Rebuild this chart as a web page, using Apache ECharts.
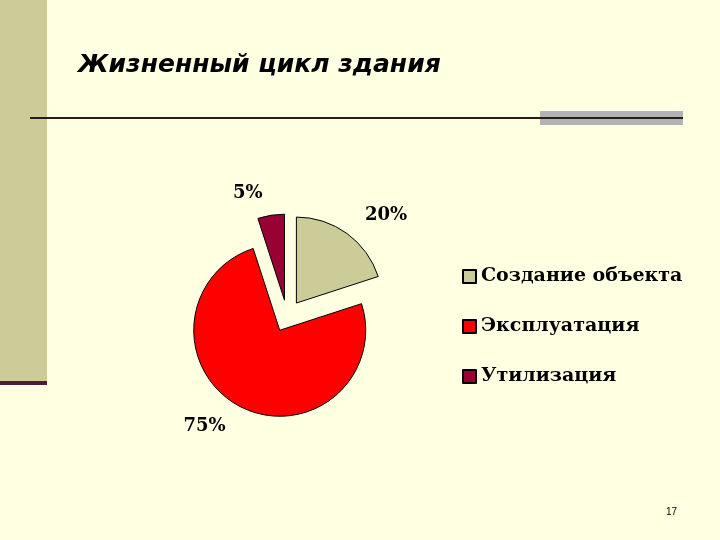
<!DOCTYPE html>
<html>
<head>
<meta charset="utf-8">
<script src="https://cdn.jsdelivr.net/npm/echarts@6/dist/echarts.min.js"></script>
<style>
  html, body { margin: 0; padding: 0; background: #FFFFE1; }
  #chart { width: 720px; height: 540px; }
</style>
</head>
<body>
<div id="chart"></div>
<script>
// данные диаграммы
const categories = ['Создание объекта', 'Эксплуатация', 'Утилизация'];
const values = [20, 75, 5];
const colors = ['#CCCC99', '#FF0000', '#990033'];

const chart = echarts.init(document.getElementById('chart'));

const option = {
  backgroundColor: '#FFFFE1',
  animation: false,
  graphic: [
    // левая полоса
    { type: 'rect', shape: { x: 0, y: 0, width: 47, height: 382 }, style: { fill: '#CCCC99' } },
    { type: 'rect', shape: { x: 0, y: 381, width: 47, height: 4 }, style: { fill: '#4B1A3C' } },
    // линия под заголовком
    { type: 'rect', shape: { x: 540, y: 111, width: 143, height: 14 }, style: { fill: '#B3B3B3' } },
    { type: 'rect', shape: { x: 30, y: 117, width: 653, height: 2 }, style: { fill: '#2A1A1A' } },
    {
      type: 'text', left: 78, top: 53,
      style: { text: 'Жизненный цикл здания', fill: '#000', font: 'italic bold 25px "DejaVu Sans", Arial' }
    },
    {
      type: 'text', left: 666, top: 507,
      style: { text: '17', fill: '#000', font: '10px "Liberation Sans", Arial' }
    }
  ],
  legend: {
    orient: 'vertical',
    left: 457,
    top: 262,
    itemGap: 31,
    itemWidth: 13,
    itemHeight: 13,
    icon: 'rect',
    textStyle: { fontFamily: '"DejaVu Serif", "Times New Roman"', fontWeight: 'bold', fontSize: 19, color: '#000' },
    data: categories
  },
  series: [{
    type: 'pie',
    center: [287, 316],
    radius: [0, 86],
    startAngle: 90,
    clockwise: true,
    selectedMode: 'multiple',
    selectedOffset: 16,
    itemStyle: { borderColor: '#000', borderWidth: 1 },
    label: {
      show: true,
      position: 'outside',
      formatter: '{d}%',
      fontFamily: '"DejaVu Serif", "Times New Roman"',
      fontWeight: 'bold',
      fontSize: 18,
      color: '#000'
    },
    labelLine: { show: false, length: 22, length2: 0 },
    data: categories.map((name, i) => ({
      name: name,
      value: values[i],
      selected: true,
      itemStyle: { color: colors[i] }
    }))
  }]
};

chart.setOption(option);
</script>
</body>
</html>
